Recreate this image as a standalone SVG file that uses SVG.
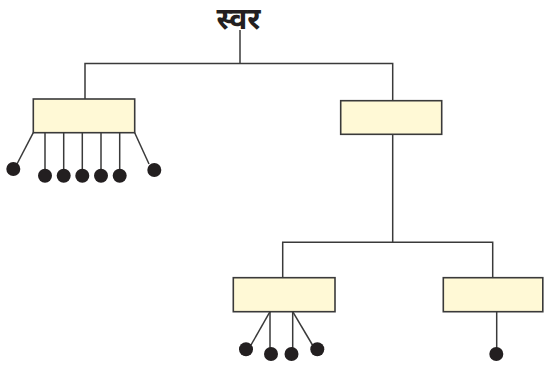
<svg xmlns="http://www.w3.org/2000/svg" width="544" height="365" viewBox="0 0 544 365">
<style>
.box{fill:#fff9d6;stroke:#3a3a3a;stroke-width:1.6}
.ln{stroke:#3a3a3a;stroke-width:1.5;fill:none}
.dot{fill:#231f20}
.title{font-family:"Noto Sans Devanagari","Noto Sans","Noto Sans CJK SC",sans-serif;font-weight:bold;font-size:30px;fill:#231f20}
</style>
<rect width="544" height="365" fill="#ffffff"/>
<g id="connectors">
<polyline class="ln" points="85,99 85,63.5 392.7,63.5 392.7,100.7"/>
<line class="ln" x1="240" y1="30" x2="240" y2="63.5"/>
<line class="ln" x1="392.7" y1="134.3" x2="392.7" y2="242.3"/>
<polyline class="ln" points="282.7,277.7 282.7,242.3 492.7,242.3 492.7,277.7"/>
</g>
<g id="title"><text class="title" x="238.5" y="29" text-anchor="middle">स्वर</text></g>
<g id="box1">
<rect class="box" x="33.3" y="99" width="101.4" height="33.7"/>
<g class="ln">
<line x1="33.3" y1="132.7" x2="17" y2="164"/>
<line x1="45" y1="132.7" x2="45" y2="172"/>
<line x1="63.7" y1="132.7" x2="63.7" y2="172"/>
<line x1="82.3" y1="132.7" x2="82.3" y2="172"/>
<line x1="101" y1="132.7" x2="101" y2="172"/>
<line x1="119.7" y1="132.7" x2="119.7" y2="172"/>
<line x1="134.7" y1="132.7" x2="149" y2="164"/>
</g>
<circle class="dot" cx="13.3" cy="169" r="7"/>
<circle class="dot" cx="45" cy="175.7" r="7"/>
<circle class="dot" cx="63.7" cy="175.7" r="7"/>
<circle class="dot" cx="82.3" cy="175.7" r="7"/>
<circle class="dot" cx="101" cy="175.7" r="7"/>
<circle class="dot" cx="119.7" cy="175.7" r="7"/>
<circle class="dot" cx="154.3" cy="170" r="7"/>
</g>
<g id="box2">
<rect class="box" x="340.7" y="100.7" width="101" height="33.6"/>
</g>
<g id="box3">
<rect class="box" x="233.3" y="277.7" width="101.7" height="34"/>
<g class="ln">
<line x1="270" y1="311.7" x2="251" y2="345"/>
<line x1="270" y1="311.7" x2="270" y2="350"/>
<line x1="292.7" y1="311.7" x2="292.7" y2="350"/>
<line x1="292.7" y1="311.7" x2="312.5" y2="345"/>
</g>
<circle class="dot" cx="246" cy="349.3" r="7"/>
<circle class="dot" cx="271" cy="354" r="7"/>
<circle class="dot" cx="291.5" cy="354" r="7"/>
<circle class="dot" cx="317.3" cy="349.3" r="7"/>
</g>
<g id="box4">
<rect class="box" x="443.3" y="277.7" width="99.5" height="34"/>
<line class="ln" x1="496.7" y1="311.7" x2="496.7" y2="350"/>
<circle class="dot" cx="496.3" cy="354" r="7"/>
</g>
</svg>
